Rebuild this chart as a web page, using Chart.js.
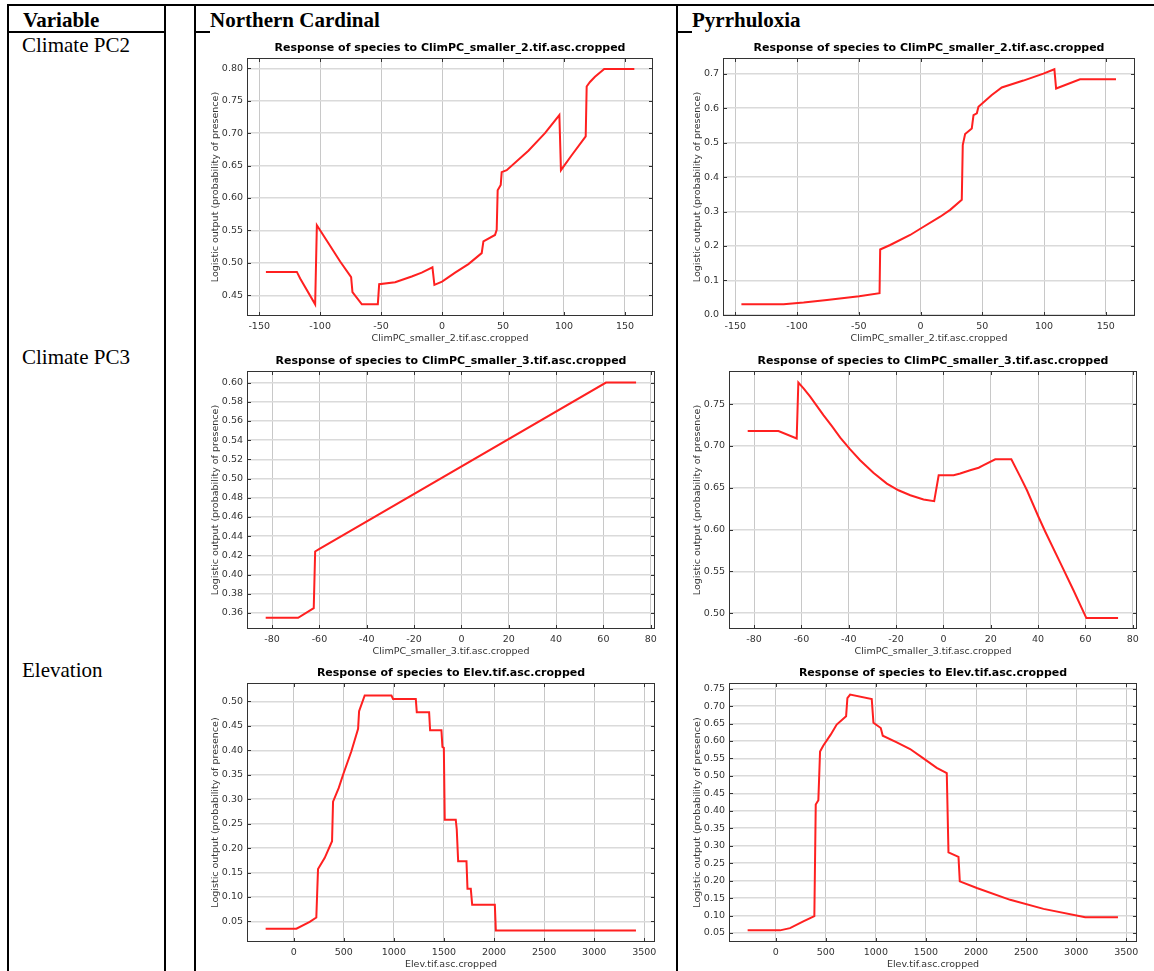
<!DOCTYPE html>
<html lang="en">
<head>
  <meta charset="UTF-8">
  <title>Response curves - Northern Cardinal and Pyrrhuloxia</title>
  <script src="https://cdn.jsdelivr.net/npm/chart.js"></script>
  <style>
    body {
      margin: 0;
      width: 1154px;
      height: 971px;
      position: relative;
      overflow: hidden;
      background: #fff;
      font-family: "Liberation Serif", "Times New Roman", serif;
    }
    .rule { position: absolute; background: #000; }
    .cell {
      position: absolute;
      font-size: 21px;
      line-height: 21px;
      color: #000;
      white-space: nowrap;
    }
    .head { font-weight: bold; }
    canvas { position: absolute; }
  </style>
</head>
<body>
  <!-- table rules -->
  <div class="rule" style="left:7px;top:4px;width:1147px;height:2px"></div>
  <div class="rule" style="left:7px;top:4px;width:2px;height:967px"></div>
  <div class="rule" style="left:164px;top:4px;width:2px;height:967px"></div>
  <div class="rule" style="left:194px;top:4px;width:2px;height:967px"></div>
  <div class="rule" style="left:676px;top:4px;width:2px;height:967px"></div>
  <div class="rule" style="left:7px;top:31px;width:158px;height:2px"></div>
  <div class="rule" style="left:194px;top:31px;width:16px;height:2px"></div>
  <div class="rule" style="left:676px;top:31px;width:16px;height:2px"></div>

  <!-- table text -->
  <div class="cell head" style="left:23px;top:10px">Variable</div>
  <div class="cell head" style="left:210px;top:10px">Northern Cardinal</div>
  <div class="cell head" style="left:692px;top:10px">Pyrrhuloxia</div>
  <div class="cell" style="left:22px;top:35px">Climate PC2</div>
  <div class="cell" style="left:22px;top:347px">Climate PC3</div>
  <div class="cell" style="left:22px;top:660px">Elevation</div>

  <canvas id="ncPc2"></canvas>
  <canvas id="pyPc2"></canvas>
  <canvas id="ncPc3"></canvas>
  <canvas id="pyPc3"></canvas>
  <canvas id="ncElev"></canvas>
  <canvas id="pyElev"></canvas>

  <script>
    // ---- tick labels ----
    const pc2XTicks = [-150, -100, -50, 0, 50, 100, 150];
    const pc3XTicks = [-80, -60, -40, -20, 0, 20, 40, 60, 80];
    const elevXTicks = [0, 500, 1000, 1500, 2000, 2500, 3000, 3500];
    const ncPc2YTicks = [0.45, 0.50, 0.55, 0.60, 0.65, 0.70, 0.75, 0.80];
    const pyPc2YTicks = [0.0, 0.1, 0.2, 0.3, 0.4, 0.5, 0.6, 0.7];
    const ncPc3YTicks = [0.36, 0.38, 0.40, 0.42, 0.44, 0.46, 0.48, 0.50, 0.52, 0.54, 0.56, 0.58, 0.60];
    const pyPc3YTicks = [0.50, 0.55, 0.60, 0.65, 0.70, 0.75];
    const ncElevYTicks = [0.05, 0.10, 0.15, 0.20, 0.25, 0.30, 0.35, 0.40, 0.45, 0.50];
    const pyElevYTicks = [0.05, 0.10, 0.15, 0.20, 0.25, 0.30, 0.35, 0.40, 0.45, 0.50, 0.55, 0.60, 0.65, 0.70, 0.75];

    // ---- response curves ----
    // Climate PC2, Northern Cardinal
    const ncPc2X = [-144.5, -119.1, -116.4, -104.1, -102.7, -94.5, -83.6, -74.6, -73.5, -65.8, -52.7, -51.6, -38.5, -24.9, -16.7, -7.9, -6.3, 0, 10.7, 21.6, 32.5, 33.9, 43.4, 44.8, 45.6, 48.1, 48.9, 53, 70.8, 84.4, 96.2, 97.5, 106.3, 117.8, 118.6, 121.3, 125.4, 133, 157.7];
    const ncPc2Y = [0.486, 0.486, 0.476, 0.436, 0.558, 0.534, 0.502, 0.478, 0.455, 0.436, 0.436, 0.467, 0.470, 0.479, 0.485, 0.493, 0.466, 0.471, 0.485, 0.498, 0.515, 0.533, 0.543, 0.551, 0.612, 0.620, 0.640, 0.643, 0.673, 0.700, 0.728, 0.643, 0.666, 0.695, 0.772, 0.779, 0.787, 0.799, 0.799];
    // Climate PC2, Pyrrhuloxia
    const pyPc2X = [-145.1, -110.9, -94.7, -75.8, -49.7, -33.2, -32.7, -24.6, -8.4, 1.1, 15.9, 24, 33.4, 34.2, 36.1, 41.5, 42.9, 45.6, 46.9, 57.7, 65.8, 83.3, 99.5, 108.4, 109.8, 129.2, 158.3];
    const pyPc2Y = [0.031, 0.031, 0.036, 0.0435, 0.054, 0.063, 0.190, 0.203, 0.232, 0.253, 0.285, 0.305, 0.334, 0.493, 0.525, 0.541, 0.580, 0.585, 0.604, 0.638, 0.660, 0.680, 0.700, 0.713, 0.657, 0.684, 0.684];
    // Climate PC3, Northern Cardinal
    const ncPc3X = [-82.7, -69, -62.4, -61.8, -59.8, 61.1, 73.8];
    const ncPc3Y = [0.355, 0.355, 0.365, 0.424, 0.427, 0.600, 0.600];
    // Climate PC3, Pyrrhuloxia
    const pyPc3X = [-82.7, -69.7, -62, -61.3, -59.1, -56.3, -53.5, -50.7, -47.2, -43.6, -39.4, -35.2, -29.6, -23.9, -19, -14, -8.4, -3.9, -2, 4.3, 7.1, 11.3, 14.9, 17, 21.9, 28.7, 32.5, 35.3, 40.2, 43.1, 49.4, 55, 60.4, 73.8];
    const pyPc3Y = [0.718, 0.718, 0.709, 0.776, 0.769, 0.759, 0.748, 0.737, 0.724, 0.710, 0.696, 0.683, 0.668, 0.655, 0.647, 0.641, 0.636, 0.634, 0.665, 0.665, 0.667, 0.671, 0.674, 0.677, 0.684, 0.684, 0.663, 0.647, 0.615, 0.597, 0.560, 0.527, 0.494, 0.494];
    // Elevation, Northern Cardinal
    const ncElevX = [-280, 27, 160, 226, 243, 310, 383, 393, 450, 493, 576, 643, 653, 709, 976, 992, 1219, 1229, 1352, 1362, 1475, 1485, 1499, 1508, 1618, 1628, 1642, 1725, 1735, 1768, 1782, 2008, 2018, 3417];
    const ncElevY = [0.035, 0.035, 0.049, 0.058, 0.157, 0.180, 0.214, 0.295, 0.323, 0.350, 0.398, 0.444, 0.480, 0.512, 0.512, 0.505, 0.505, 0.478, 0.478, 0.441, 0.441, 0.407, 0.405, 0.258, 0.258, 0.238, 0.173, 0.173, 0.117, 0.117, 0.084, 0.084, 0.0316, 0.0316];
    // Elevation, Pyrrhuloxia
    const pyElevX = [-280, 43, 143, 276, 386, 400, 426, 443, 476, 549, 609, 703, 716, 743, 959, 976, 1049, 1069, 1209, 1342, 1475, 1608, 1708, 1725, 1825, 1838, 2008, 2341, 2674, 3090, 3417];
    const pyElevY = [0.0575, 0.0575, 0.064, 0.083, 0.098, 0.418, 0.430, 0.570, 0.587, 0.618, 0.647, 0.671, 0.723, 0.733, 0.720, 0.652, 0.637, 0.615, 0.596, 0.577, 0.550, 0.523, 0.508, 0.281, 0.268, 0.198, 0.179, 0.145, 0.119, 0.095, 0.095];

    Chart.defaults.font.family = 'DejaVu Sans';

    // plot frame with small inward tick marks on all four sides
    const frameTicks = {
      id: 'frameTicks',
      beforeDatasetsDraw(chart) {
        const { ctx, chartArea: a, scales: { x, y } } = chart;
        ctx.save();
        ctx.strokeStyle = '#333';
        ctx.lineWidth = 1;
        ctx.strokeRect(a.left + 0.5, a.top + 0.5, a.right - a.left - 1, a.bottom - a.top - 1);
        ctx.beginPath();
        x.ticks.forEach(t => {
          const px = Math.round(x.getPixelForValue(t.value)) + 0.5;
          ctx.moveTo(px, a.top); ctx.lineTo(px, a.top + 4);
          ctx.moveTo(px, a.bottom); ctx.lineTo(px, a.bottom - 4);
        });
        y.ticks.forEach(t => {
          const py = Math.round(y.getPixelForValue(t.value)) + 0.5;
          ctx.moveTo(a.left, py); ctx.lineTo(a.left + 4, py);
          ctx.moveTo(a.right, py); ctx.lineTo(a.right - 4, py);
        });
        ctx.stroke();
        ctx.restore();
      }
    };

    const pc2Title = 'ClimPC_smaller_2.tif.asc.cropped';
    const pc3Title = 'ClimPC_smaller_3.tif.asc.cropped';
    const elevTitle = 'Elev.tif.asc.cropped';

    // left/right = canvas edges, plot = [left, top, right, bottom] of the plot frame
    const panels = [
      { id: 'ncPc2', xs: ncPc2X, ys: ncPc2Y, var: pc2Title, xTicks: pc2XTicks, yTicks: ncPc2YTicks, dec: 2,
        xr: [-160, 173], yr: [0.418, 0.816], left: 197, right: 665, plot: [247, 58, 653, 316] },
      { id: 'pyPc2', xs: pyPc2X, ys: pyPc2Y, var: pc2Title, xTicks: pc2XTicks, yTicks: pyPc2YTicks, dec: 1,
        xr: [-160, 173.7], yr: [-0.003, 0.7455], left: 679, right: 1150, plot: [723, 58, 1135, 316] },
      { id: 'ncPc3', xs: ncPc3X, ys: ncPc3Y, var: pc3Title, xTicks: pc3XTicks, yTicks: ncPc3YTicks, dec: 2,
        xr: [-90.6, 81.8], yr: [0.3433, 0.612], left: 197, right: 665, plot: [247, 371, 655, 629] },
      { id: 'pyPc3', xs: pyPc3X, ys: pyPc3Y, var: pc3Title, xTicks: pc3XTicks, yTicks: pyPc3YTicks, dec: 2,
        xr: [-90.6, 81.8], yr: [0.4809, 0.7898], left: 679, right: 1150, plot: [729, 371, 1137, 629] },
      { id: 'ncElev', xs: ncElevX, ys: ncElevY, var: elevTitle, xTicks: elevXTicks, yTicks: ncElevYTicks, dec: 2,
        xr: [-466, 3607], yr: [0.0079, 0.5376], left: 197, right: 665, plot: [247, 683, 655, 942] },
      { id: 'pyElev', xs: pyElevX, ys: pyElevY, var: elevTitle, xTicks: elevXTicks, yTicks: pyElevYTicks, dec: 2,
        xr: [-466, 3607], yr: [0.0242, 0.766], left: 679, right: 1150, plot: [729, 683, 1137, 942] }
    ];

    const axisFont = { family: 'DejaVu Sans', size: 9.5 };

    panels.forEach(p => {
      const [pl, pt, pr, pb] = p.plot;
      const top = pt - 18;
      const canvas = document.getElementById(p.id);
      canvas.width = p.right - p.left;
      canvas.height = pb + 30 - top;
      canvas.style.left = p.left + 'px';
      canvas.style.top = top + 'px';

      new Chart(canvas, {
        type: 'line',
        data: {
          datasets: [{
            data: p.xs.map((x, i) => ({ x: x, y: p.ys[i] })),
            borderColor: 'rgb(255,32,32)',
            borderWidth: 2,
            pointRadius: 0,
            tension: 0,
            fill: false
          }]
        },
        options: {
          responsive: false,
          animation: false,
          events: [],
          layout: { padding: { left: 0, top: 0, right: p.right - pr, bottom: 0 } },
          plugins: {
            legend: { display: false },
            tooltip: { enabled: false },
            title: {
              display: true,
              text: 'Response of species to ' + p.var,
              fullSize: false,
              color: '#000',
              font: { family: 'DejaVu Sans', size: 11, weight: 'bold' },
              padding: { top: 2, bottom: 2.8 }
            }
          },
          scales: {
            x: {
              type: 'linear',
              min: p.xr[0],
              max: p.xr[1],
              afterBuildTicks: s => { s.ticks = p.xTicks.map(v => ({ value: v })); },
              afterFit: s => { s.height = 30; },
              grid: { color: '#c8c8c8', lineWidth: 1, drawTicks: false },
              border: { display: false },
              ticks: { autoSkip: false, maxRotation: 0, padding: 5, color: '#333', font: axisFont,
                       callback: v => String(v) },
              title: { display: true, text: p.var, color: '#333', font: axisFont, padding: { top: 0, bottom: 2 } }
            },
            y: {
              type: 'linear',
              min: p.yr[0],
              max: p.yr[1],
              afterBuildTicks: s => { s.ticks = p.yTicks.map(v => ({ value: v })); },
              afterFit: s => { s.width = pl - p.left; },
              grid: { color: '#dadada', lineWidth: 1.5, drawTicks: false },
              border: { display: false },
              ticks: { autoSkip: false, padding: 4, color: '#333', font: axisFont,
                       callback: v => v.toFixed(p.dec) },
              title: { display: true, text: 'Logistic output (probability of presence)', color: '#333',
                       font: axisFont, padding: { top: 13, bottom: 0 } }
            }
          }
        },
        plugins: [frameTicks]
      });
    });
  </script>
</body>
</html>
